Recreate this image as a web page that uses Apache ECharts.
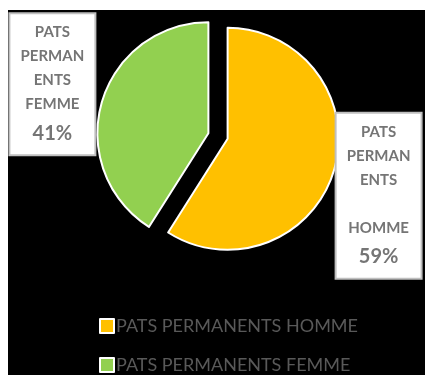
<!DOCTYPE html>
<html>
<head>
<meta charset="utf-8">
<script src="https://cdn.jsdelivr.net/npm/echarts@6/dist/echarts.min.js"></script>
<style>
html,body{margin:0;padding:0;background:#fff;width:425px;height:375px;overflow:hidden;}
#chart{position:absolute;left:8px;top:10px;width:417px;height:420px;}
</style>
</head>
<body>
<div id="chart"></div>
<script>
// Data
const categories = ['PATS PERMANENTS HOMME', 'PATS PERMANENTS FEMME'];
const values = [59, 41];
const colors = ['#FFC000', '#92D050'];
const labelNameLines = [
  ['PATS', 'PERMAN', 'ENTS', '', 'HOMME'],
  ['PATS', 'PERMAN', 'ENTS', 'FEMME']
];
const percentLabels = ['59%', '41%'];

// label box placement (chart pixels, corrected for rect reference)
const labelBox = [
  {x: 317, y: 99},
  {x: 10, y: 5}
];

const chart = echarts.init(document.getElementById('chart'), null, {renderer: 'canvas'});
const option = {
  backgroundColor: '#000000',
  animation: false,
  legend: {
    orient: 'vertical',
    left: 86,
    top: 302,
    itemWidth: 14,
    itemHeight: 14,
    itemGap: 21,
    icon: 'rect',
    selectedMode: false,
    itemStyle: {borderColor: '#ffffff', borderWidth: 2},
    textStyle: {color: '#595959', fontSize: 18, fontFamily: 'Lato', padding: [0, 0, 0, -3]},
    data: categories
  },
  series: [{
    type: 'pie',
    center: [210, 126],
    radius: 111,
    startAngle: 90,
    clockwise: true,
    selectedMode: 'multiple',
    selectedOffset: 10,
    avoidLabelOverlap: false,
    emphasis: {disabled: true},
    itemStyle: {borderColor: '#ffffff', borderWidth: 2},
    labelLine: {show: false},
    label: {
      show: true,
      position: 'outside',
      backgroundColor: '#ffffff',
      borderColor: '#bfbfbf',
      borderWidth: 2,
      width: 78,
      align: 'center',
      padding: [6, 3, 4, 3],
      color: '#7f7f7f',
      fontFamily: 'Lato',
      fontWeight: 'bold',
      fontSize: 15,
      lineHeight: 25,
      formatter: function (p) {
        const lines = labelNameLines[p.dataIndex].map(s => '{n|' + (s || ' ') + '}');
        return lines.join('\n') + '\n{p|' + percentLabels[p.dataIndex] + '}';
      },
      rich: {
        n: {fontSize: 15, lineHeight: 24, color: '#757575', fontWeight: 'bold', fontFamily: 'Lato', align: 'center', width: 78},
        p: {fontSize: 20, lineHeight: 34, color: '#757575', fontWeight: 'bold', fontFamily: 'Lato', align: 'center', width: 78}
      }
    },
    labelLayout: function (params) {
      const box = labelBox[params.dataIndex];
      const r = params.labelRect;
      return {dx: box.x - r.x, dy: box.y - r.y};
    },
    data: categories.map((c, i) => ({
      name: c,
      value: values[i],
      selected: true,
      itemStyle: {color: colors[i]}
    }))
  }]
};
chart.setOption(option);
</script>
</body>
</html>
